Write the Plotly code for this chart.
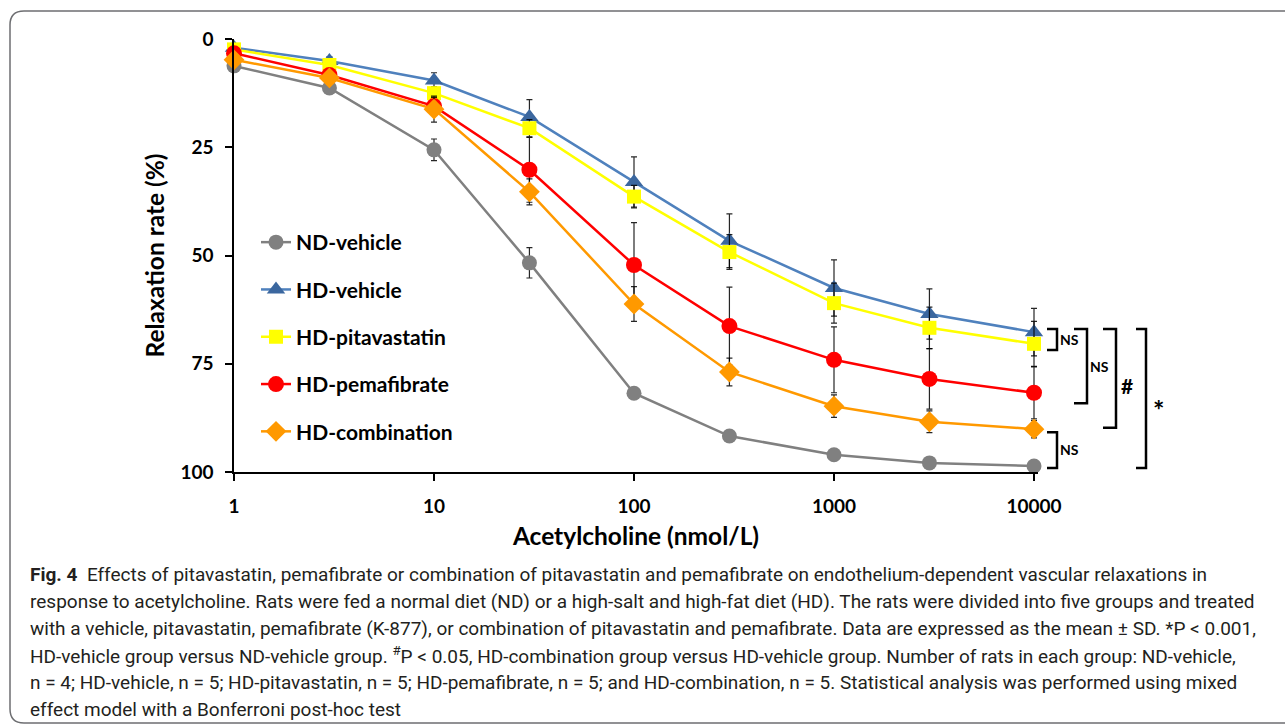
import plotly.graph_objects as go

# ---------------- data ----------------
conc = [1, 3, 10, 30, 100, 300, 1000, 3000, 10000]

nd_vehicle = [6.2, 11.3, 25.6, 51.7, 81.8, 91.7, 96.0, 97.9, 98.6]
nd_vehicle_sd = [0.5, 0.8, 2.5, 3.5, 1.3, 0.8, 0.6, 0.5, 0.5]

hd_vehicle = [2.0, 5.1, 9.6, 18.0, 33.0, 46.6, 57.5, 63.5, 67.7]
hd_vehicle_sd = [0.5, 1.0, 1.8, 4.0, 5.8, 6.2, 6.5, 5.8, 5.5]

hd_pitavastatin = [2.4, 6.0, 12.5, 20.6, 36.4, 49.2, 61.0, 66.7, 70.4]
hd_pitavastatin_sd = [0.5, 1.0, 1.5, 2.0, 2.6, 4.0, 4.6, 4.8, 5.2]

hd_pemafibrate = [3.3, 8.3, 15.5, 30.2, 52.2, 66.3, 74.1, 78.5, 81.7]
hd_pemafibrate_sd = [0.5, 1.0, 2.0, 7.5, 9.8, 9.0, 7.6, 7.0, 6.0]

hd_combination = [4.8, 9.0, 16.2, 35.3, 61.2, 76.9, 84.8, 88.4, 90.1]
hd_combination_sd = [0.5, 1.0, 3.0, 3.0, 4.0, 3.2, 2.6, 2.5, 2.0]

series_names = ["ND-vehicle", "HD-vehicle", "HD-pitavastatin", "HD-pemafibrate", "HD-combination"]
y_ticks = [0, 25, 50, 75, 100]
x_ticks = [1, 10, 100, 1000, 10000]
x_tick_labels = ["1", "10", "100", "1000", "10000"]

caption_lines = [
    "<b>Fig. 4</b>  Effects of pitavastatin, pemafibrate or combination of pitavastatin and pemafibrate on endothelium-dependent vascular relaxations in",
    "response to acetylcholine. Rats were fed a normal diet (ND) or a high-salt and high-fat diet (HD). The rats were divided into five groups and treated",
    "with a vehicle, pitavastatin, pemafibrate (K-877), or combination of pitavastatin and pemafibrate. Data are expressed as the mean ± SD. *P < 0.001,",
    "HD-vehicle group versus ND-vehicle group. <sup>#</sup>P < 0.05, HD-combination group versus HD-vehicle group. Number of rats in each group: ND-vehicle,",
    "n = 4; HD-vehicle, n = 5; HD-pitavastatin, n = 5; HD-pemafibrate, n = 5; and HD-combination, n = 5. Statistical analysis was performed using mixed",
    "effect model with a Bonferroni post-hoc test",
]

# ---------------- layout geometry ----------------
W, H = 1285, 728
L, R, T, B = 234, 1038, 39, 472


def px(xp):
    return (xp - L) / (R - L)


def py(yp):
    return (B - yp) / (B - T)


styles = [
    dict(line=dict(color="#808080", width=2.5), marker=dict(symbol="circle", size=15, color="#808080")),
    dict(line=dict(color="#4f81bd", width=2.5), marker=dict(symbol="triangle-up", size=16, color="#3b679f")),
    dict(line=dict(color="#ffff00", width=2.5), marker=dict(symbol="square", size=14, color="#ffff00")),
    dict(line=dict(color="#ff0000", width=2.5), marker=dict(symbol="circle", size=16, color="#ff0000")),
    dict(line=dict(color="#ff9900", width=2.5), marker=dict(symbol="diamond", size=16, color="#ff9900")),
]
values = [nd_vehicle, hd_vehicle, hd_pitavastatin, hd_pemafibrate, hd_combination]
sds = [nd_vehicle_sd, hd_vehicle_sd, hd_pitavastatin_sd, hd_pemafibrate_sd, hd_combination_sd]

fig = go.Figure()
for name, v, sd, st in zip(series_names, values, sds, styles):
    fig.add_trace(go.Scatter(
        x=conc, y=v, name=name, mode="lines+markers",
        line=st["line"], marker=st["marker"],
        error_y=dict(type="data", array=sd, visible=True, color="rgba(0,0,0,0.85)", thickness=1.2, width=3),
        cliponaxis=False, legendgroup=name,
    ))

axis_font = dict(family="Lato", size=19, color="black", weight="bold")
title_font = dict(family="Lato", size=24.5, color="black", weight="bold")

fig.update_layout(
    width=W, height=H,
    margin=dict(l=L, r=W - R, t=T, b=H - B, pad=0),
    plot_bgcolor="white", paper_bgcolor="white",
    showlegend=True,
    legend=dict(
        x=px(256), y=py(222), xanchor="left", yanchor="top",
        font=dict(family="Lato", size=21, color="black", weight="bold"),
        bgcolor="rgba(0,0,0,0)", tracegroupgap=17, traceorder="grouped",
    ),
    xaxis=dict(
        type="log", range=[0, 4.02], tickvals=x_ticks, ticktext=x_tick_labels,
        showgrid=False, zeroline=False, showline=True, linecolor="black", linewidth=1.5,
        ticks="outside", ticklen=7, tickwidth=1.5, tickcolor="black",
        tickfont=axis_font, ticklabelstandoff=9,
        title=dict(text="Acetylcholine (nmol/L)", font=title_font, standoff=12),
    ),
    yaxis=dict(
        range=[100, 0], tickvals=y_ticks,
        showgrid=False, zeroline=False, showline=True, linecolor="black", linewidth=1.5,
        ticks="outside", ticklen=7, tickwidth=1.5, tickcolor="black",
        tickfont=axis_font, ticklabelstandoff=8,
        title=dict(text="Relaxation rate (%)", font=title_font, standoff=9),
    ),
)

# significance brackets (x in pixels -> paper, y in data units)
brackets = [
    (1047, 1057, 67.0, 71.8),
    (1074, 1087, 67.0, 84.1),
    (1103, 1116, 67.0, 89.8),
    (1136, 1146, 67.0, 99.1),
    (1047, 1057, 90.8, 99.1),
]
for x0, x1, y0, y1 in brackets:
    fig.add_shape(
        type="path", xref="paper", yref="y",
        path=f"M {px(x0)},{y0} L {px(x1)},{y0} L {px(x1)},{y1} L {px(x0)},{y1}",
        line=dict(color="black", width=2.5),
    )

sig_labels = [
    (1069, 69.3, "NS", 14),
    (1099, 75.6, "NS", 14),
    (1127, 80.0, "#", 21),
    (1158, 85.5, "*", 27),
    (1069, 94.8, "NS", 14),
]
for xp, yv, txt, fs in sig_labels:
    fig.add_annotation(
        x=px(xp), y=yv, xref="paper", yref="y", text=txt, showarrow=False,
        font=dict(family="Lato", size=fs, color="black", weight="bold"),
        xanchor="center", yanchor="middle",
    )

# caption
cap_y = [574, 601, 628, 655, 682, 709]
for line, yp in zip(caption_lines, cap_y):
    fig.add_annotation(
        x=px(28), y=py(yp), xref="paper", yref="paper", text=line, showarrow=False,
        xanchor="left", yanchor="middle", align="left",
        font=dict(family="Roboto", size=19, color="#231f20"),
    )

# rounded frame around the figure
r = 14
x0, y0, x1, y1 = 10, 11, 1300, 723
frame = (
    f"M {px(x0)},{py(y0 + r)} Q {px(x0)},{py(y0)} {px(x0 + r)},{py(y0)} "
    f"L {px(x1)},{py(y0)} L {px(x1)},{py(y1)} L {px(x0 + r)},{py(y1)} "
    f"Q {px(x0)},{py(y1)} {px(x0)},{py(y1 - r)} Z"
)
fig.add_shape(type="path", xref="paper", yref="paper", path=frame,
              line=dict(color="#6d6e71", width=1.5), fillcolor="rgba(0,0,0,0)", layer="below")

fig.write_html(
    "out.html",
    config={"displayModeBar": False},
    post_script="document.body.style.margin='0';document.body.style.overflow='hidden';",
)
